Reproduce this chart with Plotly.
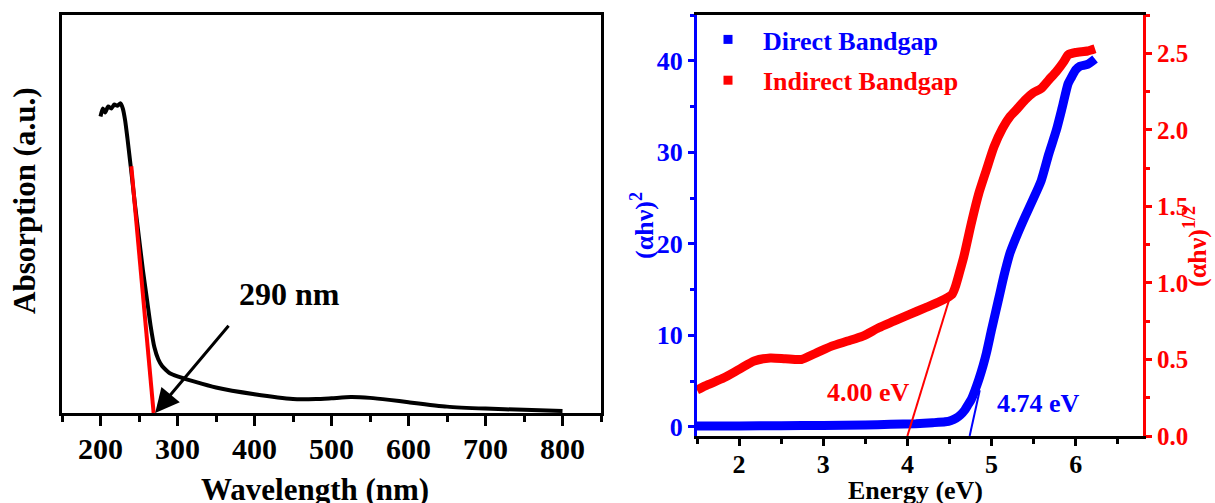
import plotly.graph_objects as go

# ---------------- data: left panel (absorption spectrum) ----------------
wavelength = [200, 203, 206, 210, 214, 218, 222, 226, 229, 232, 235, 238, 241, 245, 250,
              255, 260, 265, 270, 275, 280, 285, 290, 300, 320, 350, 400, 450, 480, 500,
              525, 550, 575, 600, 650, 700, 750, 800]
absorption = [0.745, 0.765, 0.755, 0.77, 0.765, 0.775, 0.772, 0.778, 0.765, 0.735, 0.69,
              0.64, 0.59, 0.52, 0.44, 0.36, 0.29, 0.22, 0.165, 0.135, 0.118, 0.108, 0.1,
              0.092, 0.08, 0.064, 0.047, 0.035, 0.035, 0.037, 0.04, 0.038, 0.033, 0.027,
              0.016, 0.011, 0.008, 0.005]
fit_wl = [240, 269]
fit_abs = [0.62, 0.0]
arrow_tail = (368, 0.223)
arrow_head = (271, 0.0)
edge_label = "290 nm"
edge_label_pos = (446, 0.30)

# ---------------- data: right panel (Tauc plots) ----------------
energy_dir = [1.5, 2.0, 2.5, 3.0, 3.5, 3.8, 4.1, 4.3, 4.45, 4.52, 4.58, 4.63, 4.68, 4.72,
              4.76, 4.80, 4.85, 4.90, 4.94, 5.0, 5.05, 5.1, 5.15, 5.22, 5.31, 5.40, 5.49,
              5.59, 5.68, 5.77, 5.84, 5.91, 5.95, 6.0, 6.05, 6.14, 6.23]
direct = [0.1, 0.1, 0.12, 0.15, 0.2, 0.28, 0.35, 0.45, 0.55, 0.7, 0.95, 1.3, 1.8, 2.4,
          3.0, 3.9, 5.2, 6.7, 8.1, 10.6, 12.6, 14.6, 16.6, 19.0, 21.1, 23.0, 24.8, 26.9,
          29.8, 32.4, 34.9, 37.5, 38.2, 39.0, 39.4, 39.6, 40.2]
energy_ind = [1.5, 1.63, 1.82, 2.0, 2.18, 2.37, 2.55, 2.74, 2.92, 3.10, 3.29, 3.47, 3.66,
              3.84, 4.02, 4.21, 4.39, 4.53, 4.57, 4.62, 4.67, 4.76, 4.85, 4.94, 5.03, 5.13,
              5.22, 5.31, 5.40, 5.49, 5.59, 5.68, 5.77, 5.86, 5.91, 6.0, 6.14, 6.23]
indirect = [0.30, 0.335, 0.38, 0.435, 0.49, 0.51, 0.505, 0.50, 0.543, 0.587, 0.62, 0.652,
            0.707, 0.75, 0.793, 0.837, 0.88, 0.925, 0.975, 1.07, 1.17, 1.39, 1.587, 1.74,
            1.89, 2.01, 2.087, 2.14, 2.196, 2.24, 2.27, 2.326, 2.38, 2.446, 2.49, 2.505,
            2.515, 2.53]
fit_dir_e = [4.74, 4.86]
fit_dir_v = [-1.0, 4.0]
fit_ind_e = [4.0, 4.51]
fit_ind_v = [0.0, 0.915]
gap_direct_label = "4.74 eV"
gap_direct_pos = (5.56, 2.6)
gap_indirect_label = "4.00 eV"
gap_indirect_pos = (3.54, 0.287)

BLUE = "#0000ff"
RED = "#ff0000"
FONT = "Liberation Serif"
W, H = 1215, 503


def px_x(p):
    return p / W


def px_y(p):
    return 1 - p / H


fig = go.Figure()

# left panel
fig.add_trace(go.Scatter(x=wavelength, y=absorption, mode="lines",
                         line=dict(color="black", width=4, shape="spline", smoothing=0.6),
                         showlegend=False, xaxis="x", yaxis="y"))
fig.add_trace(go.Scatter(x=fit_wl, y=fit_abs, mode="lines",
                         line=dict(color=RED, width=4), showlegend=False,
                         xaxis="x", yaxis="y"))

# right panel
fig.add_trace(go.Scatter(x=energy_dir, y=direct, mode="lines",
                         line=dict(color=BLUE, width=9, shape="spline", smoothing=0.6),
                         showlegend=False, xaxis="x2", yaxis="y2"))
fig.add_trace(go.Scatter(x=fit_dir_e, y=fit_dir_v, mode="lines",
                         line=dict(color=BLUE, width=2), showlegend=False,
                         xaxis="x2", yaxis="y2"))
fig.add_trace(go.Scatter(x=energy_ind, y=indirect, mode="lines",
                         line=dict(color=RED, width=9, shape="spline", smoothing=0.6),
                         showlegend=False, xaxis="x2", yaxis="y3"))
fig.add_trace(go.Scatter(x=fit_ind_e, y=fit_ind_v, mode="lines",
                         line=dict(color=RED, width=2), showlegend=False,
                         xaxis="x2", yaxis="y3"))
# legend entries
fig.add_trace(go.Scatter(x=[None], y=[None], mode="markers",
                         marker=dict(symbol="square", size=9, color=BLUE),
                         name=f"<span style='color:{BLUE}'>Direct Bandgap</span>",
                         legendgroup="d", xaxis="x2", yaxis="y2"))
fig.add_trace(go.Scatter(x=[None], y=[None], mode="markers",
                         marker=dict(symbol="square", size=9, color=RED),
                         name=f"<span style='color:{RED}'>Indirect Bandgap</span>",
                         legendgroup="i", xaxis="x2", yaxis="y3"))

axis_common = dict(showgrid=False, zeroline=False, showline=True, linewidth=3,
                   automargin=False)

fig.update_layout(
    width=W, height=H,
    margin=dict(l=0, r=0, t=0, b=0, autoexpand=False),
    paper_bgcolor="white", plot_bgcolor="white",
    font=dict(family=FONT, weight="bold", color="black"),
    xaxis=dict(domain=[px_x(62), px_x(601)], anchor="y", range=[150, 850],
               tick0=200, dtick=100, ticks="outside", ticklen=10, tickwidth=3,
               tickcolor="black", linecolor="black", mirror=True,
               tickfont=dict(size=30, family=FONT, weight="bold"),
               ticklabelstandoff=-3,
               minor=dict(ticks="outside", ticklen=6, tickwidth=3, dtick=50,
                          tick0=150, tickcolor="black"),
               **axis_common),
    yaxis=dict(domain=[px_y(413), px_y(15)], anchor="x", range=[0, 1],
               showticklabels=False, ticks="", linecolor="black", mirror=True,
               **axis_common),
    xaxis2=dict(domain=[px_x(697), px_x(1143)], anchor="y2", range=[1.5, 6.8],
                tick0=2, dtick=1, ticks="outside", ticklen=7, tickwidth=3,
                tickcolor="black", linecolor="black", mirror=True,
                tickfont=dict(size=26, family=FONT, weight="bold"),
                ticklabelstandoff=-4,
                minor=dict(ticks="outside", ticklen=5, tickwidth=3, dtick=0.5,
                           tick0=1.5, tickcolor="black"),
                **axis_common),
    yaxis2=dict(domain=[px_y(436), px_y(15)], anchor="x2", range=[-1, 45],
                tick0=0, dtick=10, ticks="outside", ticklen=6, tickwidth=3,
                tickcolor=BLUE, linecolor=BLUE,
                tickfont=dict(size=26, family=FONT, weight="bold", color=BLUE),
                minor=dict(ticks="outside", ticklen=4, tickwidth=3, dtick=5,
                           tick0=0, tickcolor=BLUE),
                **axis_common),
    yaxis3=dict(overlaying="y2", side="right", anchor="x2", range=[0, 2.75],
                tick0=0, dtick=0.5, tickformat=".1f", ticks="outside", ticklen=6,
                tickwidth=3, tickcolor=RED, linecolor=RED,
                tickfont=dict(size=25, family=FONT, weight="bold", color=RED),
                minor=dict(ticks="outside", ticklen=4, tickwidth=3, dtick=0.25,
                           tick0=0, tickcolor=RED),
                **axis_common),
    legend=dict(x=px_x(693), y=px_y(16), xanchor="left", yanchor="top",
                bgcolor="rgba(0,0,0,0)", itemwidth=60, tracegroupgap=4,
                font=dict(size=26, family=FONT, weight="bold")),
)

annotations = [
    # axis titles
    dict(text="Absorption (a.u.)", x=px_x(24), y=px_y(201), xref="paper", yref="paper",
         textangle=-90, showarrow=False, xanchor="center", yanchor="middle",
         font=dict(size=31, color="black")),
    dict(text="Wavelength (nm)", x=px_x(315), y=px_y(489), xref="paper", yref="paper",
         showarrow=False, xanchor="center", yanchor="middle",
         font=dict(size=31, color="black")),
    dict(text="Energy (eV)", x=px_x(915), y=px_y(490), xref="paper", yref="paper",
         showarrow=False, xanchor="center", yanchor="middle",
         font=dict(size=26, color="black")),
    dict(text="(αhν)<sup>2</sup>", x=px_x(643), y=px_y(226), xref="paper", yref="paper",
         textangle=-90, showarrow=False, xanchor="center", yanchor="middle",
         font=dict(size=26, color=BLUE)),
    dict(text="(αhν)<sup>1/2</sup>", x=px_x(1196), y=px_y(247), xref="paper", yref="paper",
         textangle=-90, showarrow=False, xanchor="center", yanchor="middle",
         font=dict(size=26, color=RED)),
    # left panel arrow + label
    dict(x=arrow_head[0], y=arrow_head[1], ax=arrow_tail[0], ay=arrow_tail[1],
         xref="x", yref="y", axref="x", ayref="y", text="", showarrow=True,
         arrowhead=2, arrowsize=1.6, arrowwidth=3, arrowcolor="black"),
    dict(text=edge_label, x=edge_label_pos[0], y=edge_label_pos[1], xref="x", yref="y",
         showarrow=False, font=dict(size=32, color="black")),
    # band gap labels
    dict(text=gap_indirect_label, x=gap_indirect_pos[0], y=gap_indirect_pos[1],
         xref="x2", yref="y3", showarrow=False, font=dict(size=26, color=RED)),
    dict(text=gap_direct_label, x=gap_direct_pos[0], y=gap_direct_pos[1],
         xref="x2", yref="y2", showarrow=False, font=dict(size=26, color=BLUE)),
]
fig.update_layout(annotations=annotations)

fig.write_html("out.html")
